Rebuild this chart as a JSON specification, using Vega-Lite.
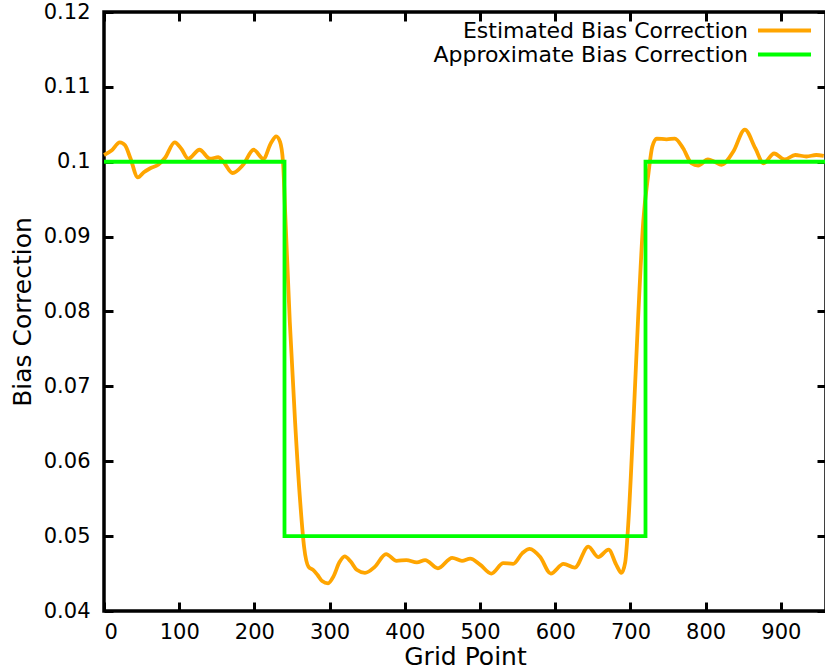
{
  "$schema": "https://vega.github.io/schema/vega-lite/v6.json",
  "width": 722,
  "height": 599,
  "autosize": "none",
  "padding": {"left": 104, "top": 12, "right": 0, "bottom": 59},
  "background": "white",
  "config": {
    "view": {"stroke": "black", "strokeWidth": 3.5},
    "font": "DejaVu Sans",
    "axis": {
      "domain": false,
      "grid": false,
      "ticks": true,
      "tickColor": "black",
      "tickWidth": 3,
      "tickSize": -9,
      "labelFont": "DejaVu Sans",
      "labelFontSize": 21,
      "labelColor": "black",
      "titleFont": "DejaVu Sans",
      "titleFontSize": 25,
      "titleFontWeight": "normal",
      "titleColor": "black"
    }
  },
  "datasets": {
    "est": [
      {"x": 0, "y": 0.1009}, {"x": 10, "y": 0.1015}, {"x": 21, "y": 0.1026}, {"x": 28, "y": 0.1022},
      {"x": 35, "y": 0.1005}, {"x": 45, "y": 0.0979}, {"x": 53, "y": 0.0986}, {"x": 61, "y": 0.0991},
      {"x": 72, "y": 0.0996}, {"x": 81, "y": 0.1005}, {"x": 94, "y": 0.1026}, {"x": 103, "y": 0.1017},
      {"x": 112, "y": 0.1004}, {"x": 127, "y": 0.1016}, {"x": 141, "y": 0.1004}, {"x": 152, "y": 0.1006},
      {"x": 158, "y": 0.1001}, {"x": 171, "y": 0.0985}, {"x": 185, "y": 0.0996}, {"x": 199, "y": 0.1016},
      {"x": 212, "y": 0.1004}, {"x": 222, "y": 0.1025}, {"x": 229, "y": 0.1034}, {"x": 234, "y": 0.1027},
      {"x": 238, "y": 0.1}, {"x": 241, "y": 0.093}, {"x": 247, "y": 0.0787}, {"x": 254, "y": 0.0654},
      {"x": 261, "y": 0.0544}, {"x": 266, "y": 0.0486}, {"x": 272, "y": 0.0459}, {"x": 278, "y": 0.0455},
      {"x": 284, "y": 0.0448}, {"x": 290, "y": 0.044}, {"x": 298, "y": 0.0437}, {"x": 305, "y": 0.0446},
      {"x": 313, "y": 0.0465}, {"x": 320, "y": 0.0473}, {"x": 328, "y": 0.0466}, {"x": 336, "y": 0.0455},
      {"x": 347, "y": 0.0451}, {"x": 360, "y": 0.0459}, {"x": 375, "y": 0.0476}, {"x": 389, "y": 0.0467},
      {"x": 402, "y": 0.0468}, {"x": 416, "y": 0.0465}, {"x": 427, "y": 0.0468}, {"x": 444, "y": 0.0457},
      {"x": 463, "y": 0.0471}, {"x": 476, "y": 0.0467}, {"x": 487, "y": 0.047}, {"x": 500, "y": 0.0462},
      {"x": 515, "y": 0.045}, {"x": 531, "y": 0.0464}, {"x": 544, "y": 0.0463}, {"x": 556, "y": 0.0477},
      {"x": 566, "y": 0.0483}, {"x": 580, "y": 0.0472}, {"x": 594, "y": 0.045}, {"x": 611, "y": 0.0463},
      {"x": 626, "y": 0.0458}, {"x": 644, "y": 0.0486}, {"x": 657, "y": 0.0472}, {"x": 671, "y": 0.0482},
      {"x": 681, "y": 0.0462}, {"x": 688, "y": 0.0451}, {"x": 693, "y": 0.0465}, {"x": 697, "y": 0.0515},
      {"x": 704, "y": 0.0654}, {"x": 710, "y": 0.0787}, {"x": 717, "y": 0.092}, {"x": 724, "y": 0.0985},
      {"x": 729, "y": 0.102}, {"x": 735, "y": 0.1031}, {"x": 748, "y": 0.103}, {"x": 759, "y": 0.1031},
      {"x": 770, "y": 0.1018}, {"x": 781, "y": 0.0998}, {"x": 790, "y": 0.0995}, {"x": 803, "y": 0.1003},
      {"x": 812, "y": 0.1}, {"x": 821, "y": 0.0996}, {"x": 837, "y": 0.1014}, {"x": 852, "y": 0.1043},
      {"x": 866, "y": 0.1018}, {"x": 877, "y": 0.0998}, {"x": 891, "y": 0.1011}, {"x": 905, "y": 0.1003},
      {"x": 919, "y": 0.1009}, {"x": 934, "y": 0.1007}, {"x": 947, "y": 0.1009}, {"x": 957, "y": 0.1008}
    ],
    "approx": [
      {"x": 0, "y": 0.1}, {"x": 240, "y": 0.1}, {"x": 240, "y": 0.05},
      {"x": 720, "y": 0.05}, {"x": 720, "y": 0.1}, {"x": 960, "y": 0.1}
    ]
  },
  "layer": [
    {
      "data": {"name": "est"},
      "transform": [{"calculate": "'Estimated Bias Correction'", "as": "series"}],
      "mark": {"type": "line", "strokeWidth": 3.8, "interpolate": "monotone"},
      "encoding": {
        "x": {"field": "x", "type": "quantitative", "scale": {"domain": [0, 960], "nice": false, "zero": false},
              "axis": {"orient": "bottom", "values": [0,100,200,300,400,500,600,700,800,900], "title": "Grid Point", "labelPadding": 19, "titlePadding": 2}},
        "y": {"field": "y", "type": "quantitative", "scale": {"domain": [0.04, 0.12], "nice": false, "zero": false},
              "axis": {"orient": "left", "values": [0.04,0.05,0.06,0.07,0.08,0.09,0.1,0.11,0.12], "format": ".2~f", "title": "Bias Correction", "labelPadding": 23, "titlePadding": 8}},
        "color": {"field": "series", "type": "nominal",
          "scale": {"domain": ["Estimated Bias Correction", "Approximate Bias Correction"], "range": ["#FFA500", "#00FF00"]},
          "legend": {"orient": "none", "legendX": 668, "legendY": 6, "title": null, "symbolType": "M-2.6,0H2.6", "symbolSize": 416, "symbolStrokeWidth": 3.8, "labelAlign": "right", "labelOffset": -49, "labelFontSize": 22, "labelFont": "DejaVu Sans", "labelColor": "black", "padding": 0, "rowPadding": -1, "labelLimit": 0}
        }
      }
    },
    {
      "data": {"name": "approx"},
      "transform": [{"calculate": "'Approximate Bias Correction'", "as": "series"}],
      "mark": {"type": "line", "strokeWidth": 3.8},
      "encoding": {
        "x": {"field": "x", "type": "quantitative", "axis": {"orient": "top", "values": [0,100,200,300,400,500,600,700,800,900], "labels": false, "title": null}},
        "y": {"field": "y", "type": "quantitative", "axis": {"orient": "right", "values": [0.04,0.05,0.06,0.07,0.08,0.09,0.1,0.11,0.12], "labels": false, "title": null}},
        "color": {"field": "series", "type": "nominal"},
        "order": {"field": "x"}
      }
    }
  ]
}
